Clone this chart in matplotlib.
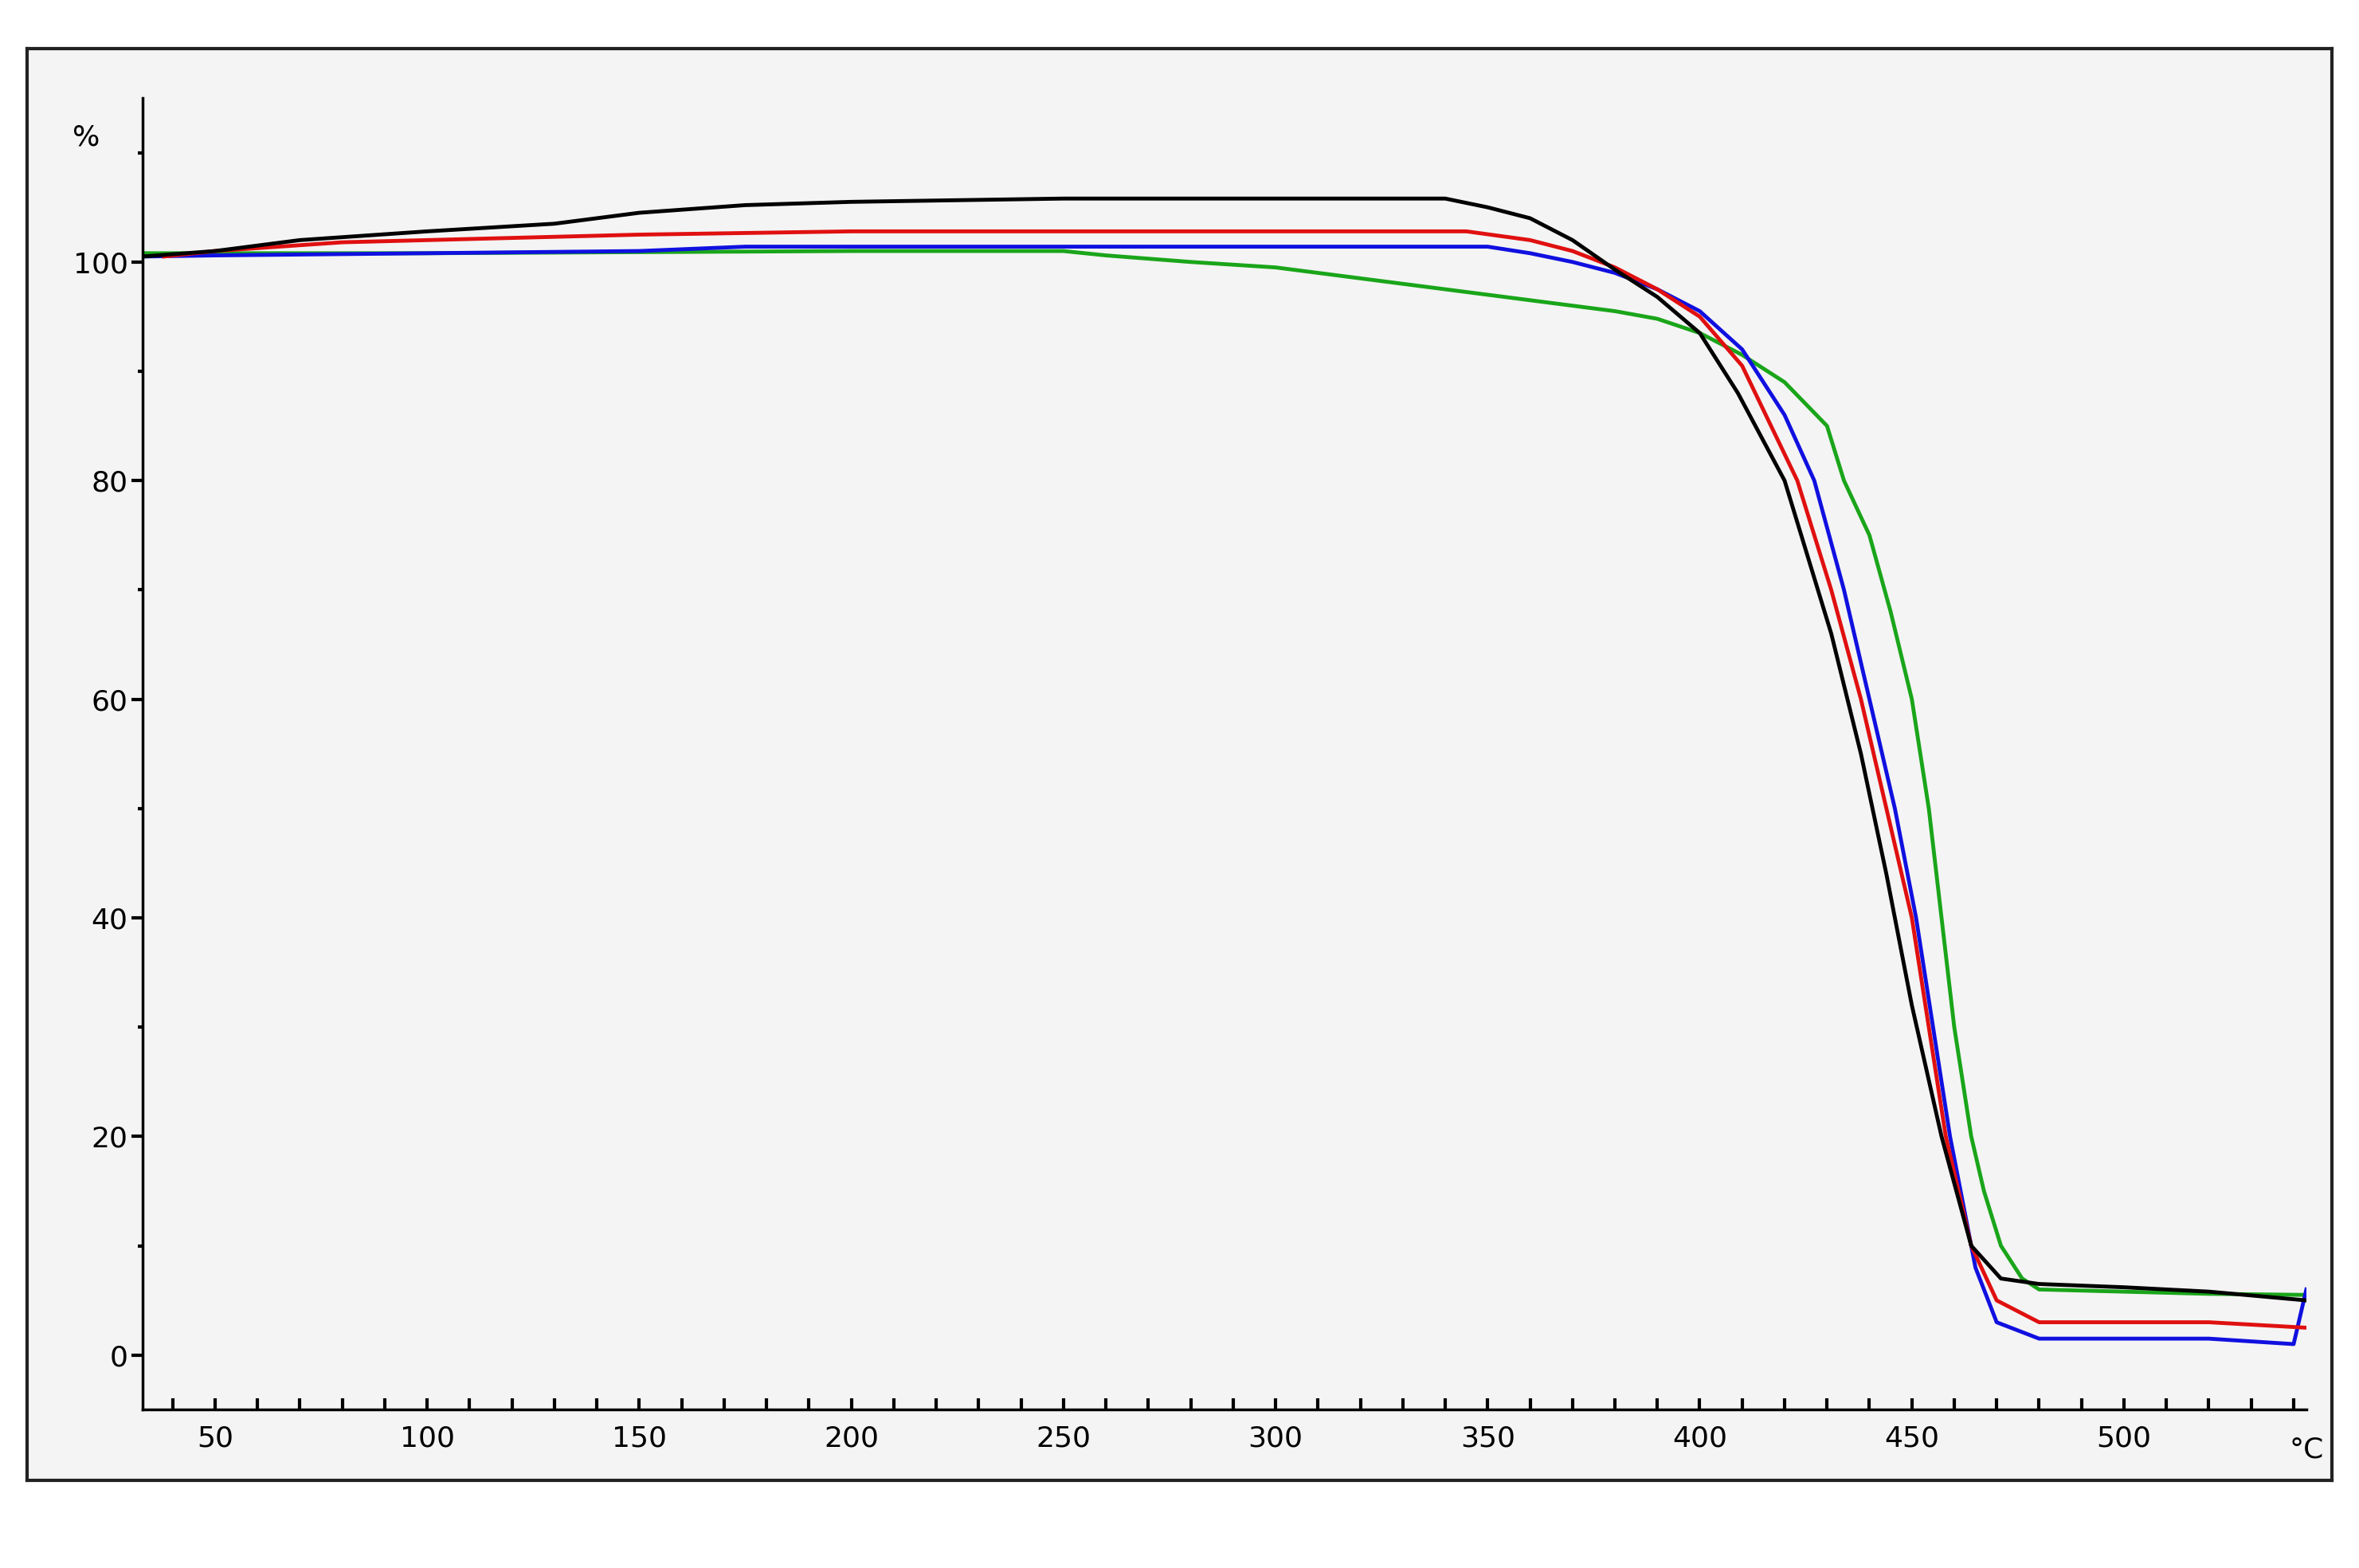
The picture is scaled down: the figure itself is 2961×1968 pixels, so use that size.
import matplotlib.pyplot as plt

black_x = [33, 50, 70, 100, 130, 150, 175, 200, 250, 300, 340, 350, 360, 370, 380, 390, 400, 409, 420, 431, 438, 444, 450, 457, 464, 471, 480, 500, 520, 543]
black_y = [100.5, 101, 102, 102.8, 103.5, 104.5, 105.2, 105.5, 105.8, 105.8, 105.8, 105, 104, 102, 99.3, 96.8, 93.5, 88, 80, 66, 55, 44, 32, 20, 10, 7, 6.5, 6.2, 5.8, 5]
red_x = [38, 50, 80, 100, 150, 200, 250, 300, 345, 360, 370, 380, 390, 400, 410, 423, 431, 438, 444, 450, 458, 464, 470, 480, 500, 520, 543]
red_y = [100.5, 101, 101.8, 102, 102.5, 102.8, 102.8, 102.8, 102.8, 102, 101, 99.5, 97.5, 95, 90.5, 80, 70, 60, 50, 40, 20, 10, 5, 3, 3, 3, 2.5]
blue_x = [33, 50, 100, 150, 175, 200, 250, 300, 350, 360, 370, 380, 390, 400, 410, 420, 427, 434, 440, 446, 451, 459, 465, 470, 480, 500, 520, 540, 543]
blue_y = [100.5, 100.6, 100.8, 101, 101.4, 101.4, 101.4, 101.4, 101.4, 100.8, 100, 99, 97.5, 95.5, 92, 86, 80, 70, 60, 50, 40, 20, 8, 3, 1.5, 1.5, 1.5, 1, 6]
green_x = [33, 100, 150, 200, 250, 260, 280, 300, 320, 350, 370, 380, 390, 400, 410, 420, 430, 434, 440, 445, 450, 454, 457, 460, 464, 467, 471, 476, 480, 500, 520, 543]
green_y = [100.8, 100.8, 100.9, 101, 101, 100.6, 100, 99.5, 98.5, 97, 96, 95.5, 94.8, 93.5, 91.5, 89, 85, 80, 75, 68, 60, 50, 40, 30, 20, 15, 10, 7, 6, 5.8, 5.6, 5.5]

y_ticks = [0, 20, 40, 60, 80, 100]
x_ticks = [50, 100, 150, 200, 250, 300, 350, 400, 450, 500]

fig = plt.figure(figsize=(29.61, 19.68), dpi=100)
fig.patch.set_facecolor('white')
frame = fig.add_axes([18/1568, 1-982/1040, (1550-18)/1568, (982-32)/1040])
frame.set_facecolor('#f4f4f4')
frame.set_xticks([]); frame.set_yticks([])
for s in frame.spines.values():
    s.set_linewidth(3); s.set_color('#222222')

ax = fig.add_axes([95/1568, 1-935/1040, (1533-95)/1568, (935-65)/1040])
ax.patch.set_alpha(0)
ax.set_xlim(33, 543)
ax.set_ylim(-5, 115)
ax.plot(green_x, green_y, color='#1aa51a', lw=3.5)
ax.plot(blue_x, blue_y, color='#1010e0', lw=3.5)
ax.plot(red_x, red_y, color='#e01010', lw=3.5)
ax.plot(black_x, black_y, color='black', lw=3.5)

ax.spines['top'].set_visible(False)
ax.spines['right'].set_visible(False)
ax.spines['left'].set_linewidth(2.5)
ax.spines['bottom'].set_linewidth(2.5)
ax.set_yticks(y_ticks)
ax.set_yticklabels([str(v) for v in y_ticks])
ax.set_yticks(list(range(10, 111, 20)), minor=True)
ax.set_xticks(x_ticks)
ax.set_xticks(list(range(40, 541, 10)), minor=True)
ax.tick_params(axis='y', which='major', length=10, width=3, labelsize=26)
ax.tick_params(axis='y', which='minor', length=4, width=3)
ax.tick_params(axis='x', which='both', direction='in', length=10, width=3, labelsize=26, pad=14)
ax.text(-0.02, 0.98, '%', transform=ax.transAxes, fontsize=26, ha='right', va='top')
ax.text(1.0, -0.02, '°C', transform=ax.transAxes, fontsize=26, ha='center', va='top')
fig.savefig('out.png', dpi=100)
